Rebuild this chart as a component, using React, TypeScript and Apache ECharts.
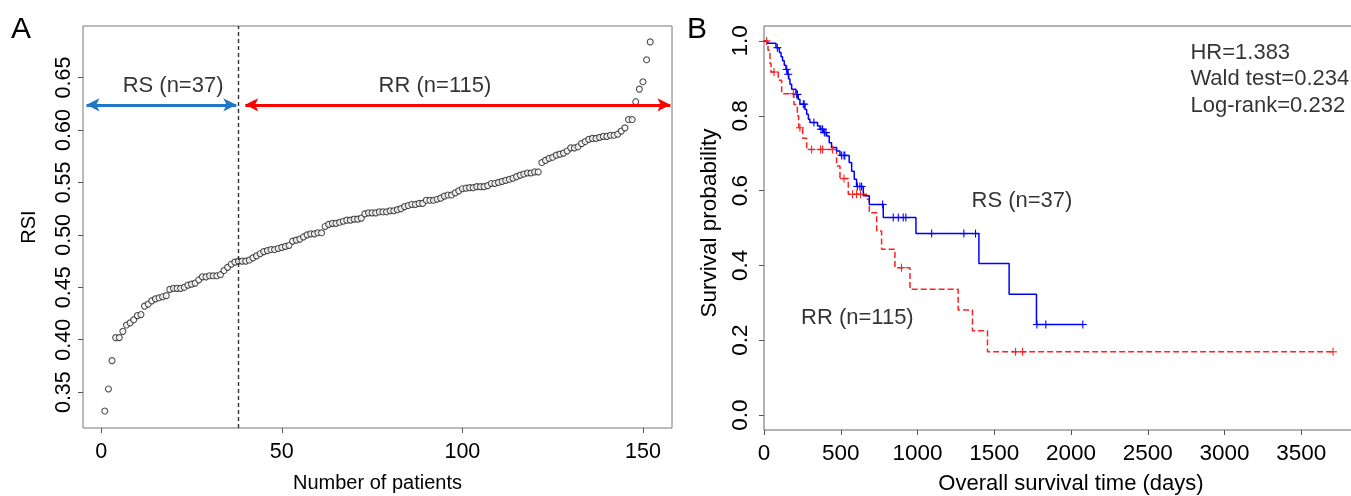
import React, { useEffect, useRef } from "react";
import * as echarts from "echarts";

const FONT = "'Liberation Sans', Arial, Helvetica, sans-serif";

// ---- Panel A data ----
const patientTicks = [0, 50, 100, 150];
const rsiTicks = [0.35, 0.4, 0.45, 0.5, 0.55, 0.6, 0.65];
const rsiValues = [
  0.332, 0.353, 0.38, 0.402, 0.402, 0.408, 0.414, 0.416, 0.419, 0.423,
  0.424, 0.432, 0.434, 0.437, 0.439, 0.44, 0.441, 0.442, 0.448, 0.449,
  0.449, 0.449, 0.45, 0.452, 0.453, 0.454, 0.457, 0.46, 0.46, 0.461,
  0.461, 0.461, 0.462, 0.466, 0.469, 0.472, 0.474, 0.475, 0.475, 0.475,
  0.476, 0.478, 0.48, 0.482, 0.484, 0.485, 0.486, 0.486, 0.487, 0.488,
  0.489, 0.49, 0.494, 0.495, 0.496, 0.498, 0.5, 0.501, 0.501, 0.502,
  0.502, 0.508, 0.51, 0.511, 0.511, 0.512, 0.513, 0.514, 0.514, 0.515,
  0.515, 0.516, 0.52, 0.521, 0.521, 0.521, 0.522, 0.522, 0.522, 0.523,
  0.523, 0.524, 0.525, 0.527, 0.528, 0.529, 0.529, 0.53, 0.53, 0.533,
  0.533, 0.533, 0.534, 0.535, 0.537, 0.538, 0.538, 0.54, 0.542, 0.544,
  0.5445, 0.545, 0.545, 0.546, 0.546, 0.546, 0.547, 0.549, 0.549, 0.55,
  0.551, 0.552, 0.553, 0.554, 0.5555, 0.557, 0.558, 0.559, 0.559, 0.56,
  0.56, 0.569, 0.571, 0.573, 0.574, 0.576, 0.577, 0.578, 0.58, 0.583,
  0.583, 0.584, 0.587, 0.589, 0.591, 0.592, 0.592, 0.593, 0.594, 0.594,
  0.595, 0.595, 0.596, 0.599, 0.602, 0.61, 0.61, 0.627, 0.639, 0.646,
  0.667, 0.684,
];
const patientIndex = rsiValues.map((_, i) => i + 1);
const cutoffPatient = 38;
const groupLabelsA = ["RS (n=37)", "RR (n=115)"];

// ---- Panel B data ----
const dayTicks = [0, 500, 1000, 1500, 2000, 2500, 3000, 3500];
const survTicks = [0, 0.2, 0.4, 0.6, 0.8, 1.0];
const rsSteps: [number, number][] = [
  [0, 1], [17, 0.994], [78, 0.982], [100, 0.969], [111, 0.958], [121, 0.947],
  [132, 0.935], [143, 0.924], [152, 0.911], [161, 0.898], [169, 0.884],
  [180, 0.871], [208, 0.857], [223, 0.844], [234, 0.831], [267, 0.817],
  [278, 0.804], [289, 0.791], [299, 0.782], [349, 0.773], [365, 0.764],
  [386, 0.755], [408, 0.746], [425, 0.728], [440, 0.715], [473, 0.706],
  [495, 0.694], [555, 0.675], [571, 0.652], [588, 0.63], [603, 0.611],
  [647, 0.586], [686, 0.563], [777, 0.528], [990, 0.485], [1400, 0.405],
  [1597, 0.323], [1775, 0.242], [2077, 0.242],
];
const rsCensor = [87, 148, 158, 213, 218, 256, 262, 325, 371, 382, 393, 404,
  506, 521, 527, 608, 625, 636, 773, 842, 875, 907, 924, 1092, 1302, 1378,
  1778, 1836, 2077];
const rrSteps: [number, number][] = [
  [0, 1], [26, 0.975], [39, 0.94], [46, 0.917], [93, 0.895], [115, 0.859],
  [195, 0.83], [217, 0.8], [226, 0.768], [252, 0.74], [278, 0.71],
  [473, 0.666], [495, 0.632], [549, 0.59], [668, 0.577], [686, 0.541],
  [734, 0.492], [766, 0.443], [853, 0.394], [951, 0.336], [1265, 0.281],
  [1358, 0.225], [1456, 0.169], [3707, 0.169],
];
const rrCensor = [17, 65, 191, 234, 310, 369, 382, 447, 521, 577, 603, 629,
  896, 1639, 1685, 3707];
const statsLines = ["HR=1.383", "Wald test=0.234", "Log-rank=0.232"];
const groupLabelsB = ["RS (n=37)", "RR (n=115)"];

function survAt(steps: [number, number][], t: number) {
  let s = steps[0][1];
  for (const [d, v] of steps) {
    if (d <= t) s = v;
    else break;
  }
  return s;
}

function censorSeries(days: number[], steps: [number, number][], color: string) {
  return {
    type: "custom",
    xAxisIndex: 1,
    yAxisIndex: 1,
    silent: true,
    z: 4,
    data: days.map((d) => [d, survAt(steps, d)]),
    renderItem: (_p: any, api: any) => {
      const p = api.coord([api.value(0), api.value(1)]);
      const h = 4;
      return {
        type: "group",
        children: [
          { type: "line", shape: { x1: p[0] - h, y1: p[1], x2: p[0] + h, y2: p[1] }, style: { stroke: color, lineWidth: 1.1 } },
          { type: "line", shape: { x1: p[0], y1: p[1] - h, x2: p[0], y2: p[1] + h }, style: { stroke: color, lineWidth: 1.1 } },
        ],
      };
    },
  };
}

const tickStyle = { color: "#555", width: 1 };
const tickLabelA = { fontSize: 21.5, color: "#000", fontFamily: FONT };
const tickLabelB = { fontSize: 22.5, color: "#000", fontFamily: FONT };
const annot = { fontSize: 22, color: "#000", fontFamily: FONT };
const hiddenLine = { show: false, onZero: false };

export default function App() {
  const ref = useRef<HTMLDivElement>(null);
  useEffect(() => {
    document.body.style.margin = "0";
    const chart = echarts.init(ref.current!, null, { renderer: "svg" });
    const option: any = {
      animation: false,
      textStyle: { fontFamily: FONT },
      grid: [
        { left: 83, top: 26, width: 589, height: 402, outerBoundsMode: "none", containLabel: false, show: true, borderColor: "#777", borderWidth: 1, backgroundColor: "transparent" },
        { left: 764, top: 26, width: 614, height: 404, outerBoundsMode: "none", containLabel: false, show: true, borderColor: "#666", borderWidth: 1, backgroundColor: "transparent" },
      ],
      xAxis: [
        {
          type: "value", gridIndex: 0, min: -5.04, max: 158.04,
          axisLine: hiddenLine, splitLine: { show: false },
          axisTick: { show: true, customValues: patientTicks, length: 5, lineStyle: tickStyle },
          axisLabel: { ...tickLabelA, customValues: patientTicks, margin: 12, formatter: (v: number) => String(v) },
          name: "Number of patients", nameLocation: "middle", nameGap: 44,
          nameTextStyle: { fontSize: 20, color: "#000", fontFamily: FONT },
        },
        {
          type: "value", gridIndex: 1, min: 0, max: 4000,
          axisLine: hiddenLine, splitLine: { show: false },
          axisTick: { show: true, customValues: dayTicks, length: 5, lineStyle: tickStyle },
          axisLabel: { ...tickLabelB, customValues: dayTicks, margin: 11, formatter: (v: number) => String(v) },
          name: "Overall survival time (days)", nameLocation: "middle", nameGap: 41,
          nameTextStyle: { fontSize: 22, color: "#000", fontFamily: FONT },
        },
      ],
      yAxis: [
        {
          type: "value", gridIndex: 0, min: 0.3158, max: 0.6992,
          axisLine: hiddenLine, splitLine: { show: false },
          axisTick: { show: true, customValues: rsiTicks, length: 5, lineStyle: tickStyle },
          axisLabel: { ...tickLabelA, customValues: rsiTicks, rotate: 90, margin: 9, formatter: (v: number) => v.toFixed(2) },
          name: "RSI", nameLocation: "middle", nameGap: 45,
          nameTextStyle: { fontSize: 20, color: "#000", fontFamily: FONT },
        },
        {
          type: "value", gridIndex: 1, min: -0.04, max: 1.04,
          axisLine: hiddenLine, splitLine: { show: false },
          axisTick: { show: true, customValues: survTicks, length: 5, lineStyle: tickStyle },
          axisLabel: { ...tickLabelB, customValues: survTicks, rotate: 90, margin: 13, formatter: (v: number) => v.toFixed(1) },
          name: "Survival probability", nameLocation: "middle", nameGap: 44,
          nameTextStyle: { fontSize: 22.5, color: "#000", fontFamily: FONT, padding: [0, 0, 0, 10] },
        },
      ],
      graphic: [
        { type: "text", left: 11, top: 12, style: { text: "A", fontSize: 30, fill: "#000", fontFamily: FONT } },
        { type: "text", left: 687, top: 12, style: { text: "B", fontSize: 30, fill: "#000", fontFamily: FONT } },
      ],
      series: [
        {
          type: "scatter", xAxisIndex: 0, yAxisIndex: 0,
          data: rsiValues.map((v, i) => [patientIndex[i], v]),
          symbol: "circle", symbolSize: 6,
          itemStyle: { color: "#fff", borderColor: "#222", borderWidth: 1.1 },
          silent: true,
          markLine: {
            silent: true, animation: false,
            symbol: ["none", "none"],
            label: { show: false },
            data: [
              { xAxis: cutoffPatient, lineStyle: { type: [4, 3], color: "#333", width: 1.4 } },
              [
                { coord: [-4.07, 0.624], symbol: "arrow", symbolSize: [10, 13], lineStyle: { color: "#1f77c8", width: 3, type: "solid" } },
                { coord: [37.4, 0.624], symbol: "arrow", symbolSize: [10, 13] },
              ],
              [
                { coord: [39.9, 0.624], symbol: "arrow", symbolSize: [10, 13], lineStyle: { color: "#ff0000", width: 3, type: "solid" } },
                { coord: [157.6, 0.624], symbol: "arrow", symbolSize: [10, 13] },
              ],
            ],
          },
        },
        {
          type: "scatter", xAxisIndex: 0, yAxisIndex: 0, symbolSize: 0, silent: true,
          data: [[19.9, 0.6435, groupLabelsA[0]], [92.4, 0.6435, groupLabelsA[1]]],
          label: { show: true, position: "inside", formatter: (p: any) => p.data[2], ...annot },
        },
        {
          type: "line", xAxisIndex: 1, yAxisIndex: 1, step: "end", showSymbol: false, silent: true,
          data: rsSteps, lineStyle: { color: "#0000ff", width: 1.5 }, z: 3,
        },
        {
          type: "line", xAxisIndex: 1, yAxisIndex: 1, step: "end", showSymbol: false, silent: true,
          data: rrSteps, lineStyle: { color: "#ff2020", width: 1.5, type: [6, 3] }, z: 2,
        },
        censorSeries(rsCensor, rsSteps, "#0000ff"),
        censorSeries(rrCensor, rrSteps, "#ff2020"),
        {
          type: "scatter", xAxisIndex: 1, yAxisIndex: 1, symbolSize: 0, silent: true,
          data: [
            [2778, 0.972, statsLines[0]],
            [2778, 0.901, statsLines[1]],
            [2778, 0.83, statsLines[2]],
            [1352, 0.577, groupLabelsB[0]],
            [241, 0.263, groupLabelsB[1]],
          ],
          label: { show: true, position: "right", distance: 0, formatter: (p: any) => p.data[2], ...annot },
        },
      ],
    };
    chart.setOption(option);
    return () => chart.dispose();
  }, []);
  return <div ref={ref} style={{ position: "fixed", left: 0, top: 0, width: 1351, height: 496 }} />;
}
